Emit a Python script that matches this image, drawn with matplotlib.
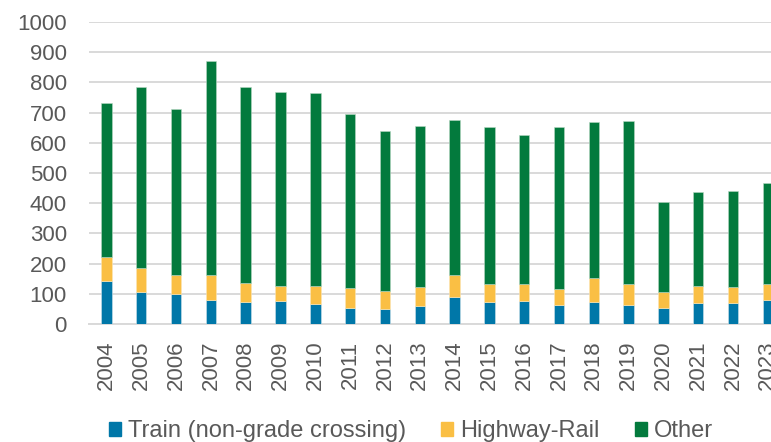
import numpy as np
import matplotlib.pyplot as plt
from matplotlib.patches import Patch

plt.rcParams['font.family'] = ['Liberation Sans', 'DejaVu Sans']

years = [str(y) for y in range(2004, 2024)]
train = [142, 106, 100, 81, 73, 77, 67, 54, 51, 61, 91, 74, 76, 62, 72, 64, 54, 71, 71, 81]
highway = [80, 81, 62, 81, 63, 48, 60, 65, 59, 61, 71, 58, 56, 54, 79, 67, 53, 56, 51, 53]
other = [509, 598, 549, 709, 649, 645, 637, 576, 528, 533, 513, 520, 493, 536, 517, 541, 298, 309, 317, 332]

blue = '#0077A8'
yellow = '#FABF44'
green = '#037A3D'
grey = '#595959'

fig = plt.figure(figsize=(7.71, 4.42), dpi=100)
# plot area runs a little past the right edge of the figure
ax = fig.add_axes([0.1155, 0.267, 0.903, 0.683])

x = np.arange(len(years))
w = 0.3
ax.bar(x, train, w, color=blue, edgecolor='#cfe3ea', linewidth=0.4, zorder=3)
ax.bar(x, highway, w, bottom=train, color=yellow, edgecolor='#fbe6b8', linewidth=0.4, zorder=3)
bottom2 = np.array(train) + np.array(highway)
ax.bar(x, other, w, bottom=bottom2, color=green, edgecolor='#b8d8c4', linewidth=0.4, zorder=3)

ax.set_xlim(-0.5, len(years) - 0.5)
ax.set_ylim(0, 1000)
ax.set_yticks(range(0, 1001, 100))
ax.set_xticks(x)
ax.set_xticklabels(years, rotation=90)
ax.grid(axis='y', color='#d9d9d9', linewidth=1.4, zorder=0)
ax.set_axisbelow(True)
for s in ['top', 'right', 'left']:
    ax.spines[s].set_visible(False)
ax.spines['bottom'].set_color('#d9d9d9')
ax.spines['bottom'].set_linewidth(1.4)
ax.tick_params(axis='both', length=0, labelsize=16, labelcolor=grey)
ax.tick_params(axis='y', pad=16)
ax.tick_params(axis='x', pad=12)

handles = [Patch(color=blue, label='Train (non-grade crossing)'),
           Patch(color=yellow, label='Highway-Rail'),
           Patch(color=green, label='Other')]
fig.legend(handles=handles, loc='center', bbox_to_anchor=(0.533, 0.024), ncol=3,
           frameon=False, fontsize=17, labelcolor=grey, handlelength=0.5,
           handleheight=0.55, handletextpad=0.3, columnspacing=1.5,
           borderaxespad=0, borderpad=0)

fig.savefig('out.png', dpi=100)
